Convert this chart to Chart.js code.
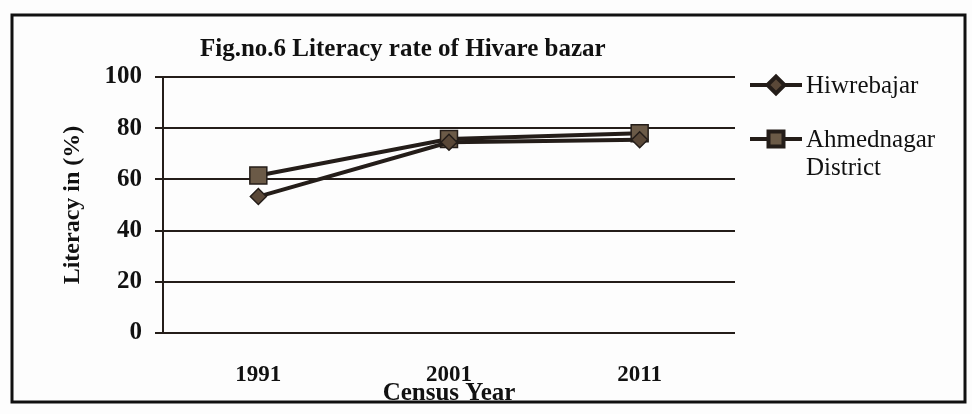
<!DOCTYPE html>
<html><head><meta charset="utf-8">
<script src="https://cdn.jsdelivr.net/npm/chart.js@4/dist/chart.umd.min.js"></script>
<style>html,body{margin:0;padding:0;background:#fdfdfd}#wrap{width:972px;height:414px;position:relative}</style>
</head><body><div id="wrap"><canvas id="c" width="972" height="414"></canvas></div>
<script>
const categories = ['1991', '2001', '2011'];
const hiwrebajar = [53.3, 74.5, 75.5];
const ahmednagar = [61.5, 75.8, 78];
const yTicks = [0, 20, 40, 60, 80, 100];
const seriesNames = ['Hiwrebajar', 'Ahmednagar District'];
const legendLines = [['Hiwrebajar'], ['Ahmednagar', 'District']];
const titleText = 'Fig.no.6 Literacy rate of Hivare bazar';

const FAM = '"Liberation Serif", "Times New Roman", serif';
const INK = '#241d19';

const deco = {
  id: 'deco',
  beforeDraw(chart) {
    const ctx = chart.ctx; ctx.save();
    ctx.fillStyle = '#fdfdfd'; ctx.fillRect(0, 0, chart.width, chart.height);
    ctx.restore();
  },
  afterDraw(chart) {
    const ctx = chart.ctx; ctx.save();
    // outer frame
    ctx.strokeStyle = '#111'; ctx.lineWidth = 3;
    ctx.strokeRect(12, 15, 953, 387);
    // title
    ctx.fillStyle = '#111';
    ctx.font = 'bold 25px ' + FAM;
    ctx.textBaseline = 'middle'; ctx.textAlign = 'left';
    ctx.fillText(titleText, 200, 50);
    // legend
    const ys = [85, 139];
    const legR = [8.5, 10.6];
    chart.data.datasets.forEach((ds, i) => {
      const y = ys[i];
      ctx.strokeStyle = ds.borderColor; ctx.lineWidth = 4;
      ctx.beginPath(); ctx.moveTo(750, y); ctx.lineTo(802, y); ctx.stroke();
      ctx.fillStyle = ds.pointBackgroundColor; ctx.strokeStyle = ds.pointBorderColor;
      Chart.helpers.drawPoint(ctx, {pointStyle: ds.pointStyle, radius: legR[i], borderWidth: 1.5, rotation: 0}, 776, y);
      ctx.fillStyle = '#111';
      ctx.font = '25px ' + FAM;
      legendLines[i].forEach((t, k) => ctx.fillText(t, 806, y + 1 + k * 28));
    });
    ctx.restore();
  }
};

new Chart(document.getElementById('c'), {
  type: 'line',
  data: {
    labels: categories,
    datasets: [
      {label: seriesNames[0], data: hiwrebajar, borderColor: INK, borderWidth: 4, tension: 0,
       pointStyle: 'rectRot', pointRadius: 8, pointHoverRadius: 8,
       pointBackgroundColor: '#5a4838', pointBorderColor: INK, pointBorderWidth: 1.5},
      {label: seriesNames[1], data: ahmednagar, borderColor: INK, borderWidth: 4, tension: 0,
       pointStyle: 'rect', pointRadius: 12, pointHoverRadius: 12,
       pointBackgroundColor: '#6b5a47', pointBorderColor: INK, pointBorderWidth: 1.5}
    ]
  },
  options: {
    responsive: false, animation: false, devicePixelRatio: 1,
    layout: {padding: {top: 77, right: 237, bottom: 5, left: 0}},
    plugins: {legend: {display: false}, title: {display: false}, tooltip: {enabled: false}},
    scales: {
      x: {
        offset: true,
        grid: {display: false, drawTicks: false},
        border: {display: false},
        ticks: {color: '#111', padding: 28, font: {family: FAM, size: 23, weight: 'bold'}},
        title: {display: true, text: 'Census Year', color: '#111', padding: {top: 0, bottom: 0},
                font: {family: FAM, size: 25, weight: 'bold'}},
        afterFit(s) { s.height = 76; }
      },
      y: {
        min: 0, max: 100,
        afterBuildTicks(s) { s.ticks = yTicks.map(v => ({value: v})); },
        grid: {color: INK, lineWidth: 2, tickLength: 8, drawTicks: true},
        border: {display: true, color: INK, width: 2},
        ticks: {color: '#111', padding: 13, font: {family: FAM, size: 25, weight: 'bold'}},
        title: {display: true, text: 'Literacy in (%)', color: '#111', padding: {top: 58, bottom: 0},
                font: {family: FAM, size: 24, weight: 'bold'}},
        afterFit(s) { s.width = 163; }
      }
    }
  },
  plugins: [deco]
});
</script>
</body></html>
